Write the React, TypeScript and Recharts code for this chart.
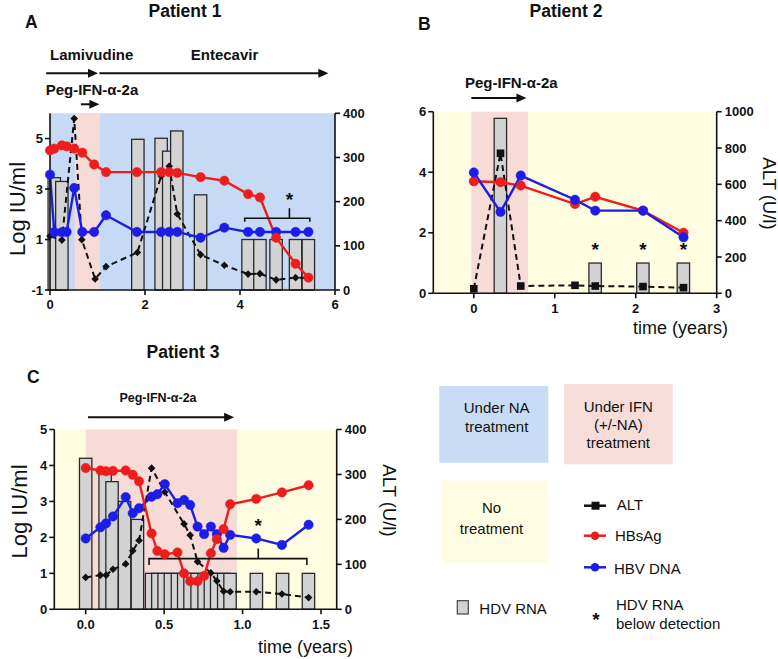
import React from 'react';
import { ComposedChart, Line, Bar, XAxis, YAxis, ReferenceArea, ReferenceLine, ReferenceDot } from 'recharts';

const FONT = '"Liberation Sans", Arial, Helvetica, sans-serif';
const RED = '#ee1d1d';
const BLUE = '#1d1de8';
const INK = '#111111';
const BAR_FILL = '#d3d3d3';
const BG_BLUE = '#c6daf5';
const BG_PINK = '#f6dbd6';
const BG_YELLOW = '#fefde2';

// ---------- Panel A : Patient 1 ----------
const aTime = [0, 0.09, 0.25, 0.35, 0.51, 0.68, 0.93, 1.18, 1.83, 2.34, 2.51, 2.68, 3.17, 3.67, 4.17, 4.42, 4.76, 5.17, 5.44];
const aHBsAg = [4.53, 4.6, 4.73, 4.69, 4.6, 4.44, 3.97, 3.67, 3.67, 3.67, 3.67, 3.64, 3.47, 3.33, 2.8, 2.67, 1.07, 0.04, -0.51];
const aHBVDNA = [3.57, 1.29, 1.29, 1.3, 3.04, 1.3, 1.3, 1.96, 1.3, 1.3, 1.3, 1.3, 1.07, 1.47, 1.3, 1.3, 1.3, 1.3, 1.3];
const aAltTime = [0, 0.25, 0.51, 0.67, 0.95, 1.18, 1.84, 2.34, 2.51, 2.68, 3.17, 3.67, 4.17, 4.42, 4.76, 5.17, 5.44];
const aALT = [122, 113, 388, 114, 25, 53, 85, 258, 280, 172, 80, 56, 36, 37, 23, 28, 28];
const aHdvTime = [0.09, 0.25, 1.85, 2.34, 2.5, 2.67, 3.17, 4.17, 4.42, 4.76, 5.17, 5.44];
const aHDV = [3.45, 3.3, 4.97, 5.01, 4.5, 5.3, 2.77, 1, 1, 1, 1, 1];
const aXTicks = [0, 2, 4, 6];
const aLeftTicks = [-1, 1, 3, 5];
const aRightTicks = [0, 100, 200, 300, 400];
const aNAPeriod = [0, 6];
const aIFNPeriod = [0.52, 1.05];
const aLamivudine = [-0.08, 1.01];
const aEntecavir = [1.04, 5.86];
const aPegIFN = [0.65, 1.04];
const aStarX = [5.04];

// ---------- Panel B : Patient 2 ----------
const bTime = [0, 0.33, 0.58, 1.25, 1.5, 2.09, 2.59];
const bHBsAg = [3.7, 3.67, 3.56, 2.95, 3.19, 2.73, 2.0];
const bHBVDNA = [3.99, 2.69, 3.89, 3.09, 2.73, 2.73, 1.85];
const bALT = [25, 771, 40, 44, 40, 37, 31];
const bHdvTime = [0.33, 1.5, 2.09, 2.59];
const bHDV = [5.78, 1, 1, 1];
const bXTicks = [0, 1, 2, 3];
const bLeftTicks = [0, 2, 4, 6];
const bRightTicks = [0, 200, 400, 600, 800, 1000];
const bNoTreatment = [-0.5, 3];
const bIFNPeriod = [-0.03, 0.67];
const bPegIFN = [-0.03, 0.65];
const bStarX = [1.5, 2.09, 2.59];

// ---------- Panel C : Patient 3 ----------
const cTime = [0, 0.094, 0.13, 0.174, 0.255, 0.3, 0.34, 0.42, 0.457, 0.504, 0.585, 0.627, 0.666, 0.713, 0.755, 0.798, 0.836, 0.879, 0.921, 1.087, 1.251, 1.421];
const cHBsAg = [3.93, 3.86, 3.84, 3.85, 3.86, 3.74, 3.56, 2.11, 1.62, 1.53, 1.58, 1.0, 0.78, 0.78, 0.93, 1.56, 1.95, 2.23, 2.92, 3.07, 3.25, 3.45];
const cHBVDNA = [1.97, 2.28, 2.39, 2.58, 3.12, 2.67, 2.81, 3.13, 3.2, 3.48, 2.95, 3.04, 2.9, 2.3, 2.09, 2.3, 2.09, 1.71, 2.07, 1.97, 1.79, 2.35];
const cAltTime = [0, 0.094, 0.13, 0.174, 0.255, 0.3, 0.34, 0.42, 0.504, 0.627, 0.666, 0.713, 0.798, 0.836, 0.879, 0.921, 1.087, 1.251, 1.421];
const cALT = [71, 76, 76, 89, 101, 130, 153, 314, 261, 190, 165, 106, 81, 63, 40, 39, 39, 34, 26];
const cHdvTime = [0, 0.124, 0.168, 0.248, 0.33, 0.42, 0.46, 0.5, 0.54, 0.585, 0.625, 0.665, 0.71, 0.755, 0.795, 0.835, 0.88, 0.92, 1.088, 1.255, 1.42];
const cHDV = [4.2, 3.85, 3.55, 3.0, 2.5, 1, 1, 1, 1, 1, 1, 1, 1, 1, 1, 1, 1, 1, 1, 1, 1];
const cXTicks = [0, 0.5, 1, 1.5];
const cLeftTicks = [0, 1, 2, 3, 4, 5];
const cRightTicks = [0, 100, 200, 300, 400];
const cNoTreatment = [-0.2, 1.6];
const cIFNPeriod = [0, 0.965];
const cPegIFN = [0.015, 0.946];
const cStarX = [1.1];

type Row = { t: number; [k: string]: number | undefined };
function buildTable(series: { key: string; t: number[]; v: number[] }[]): Row[] {
  const map = new Map<number, Row>();
  series.forEach((s) =>
    s.t.forEach((t, i) => {
      if (!map.has(t)) map.set(t, { t });
      (map.get(t) as Row)[s.key] = s.v[i];
    })
  );
  return Array.from(map.values()).sort((a, b) => a.t - b.t);
}

const dataA = buildTable([
  { key: 'hbs', t: aTime, v: aHBsAg },
  { key: 'dna', t: aTime, v: aHBVDNA },
  { key: 'alt', t: aAltTime, v: aALT },
  { key: 'hdv', t: aHdvTime, v: aHDV },
]);
const dataB = buildTable([
  { key: 'hbs', t: bTime, v: bHBsAg },
  { key: 'dna', t: bTime, v: bHBVDNA },
  { key: 'alt', t: bTime, v: bALT },
  { key: 'hdv', t: bHdvTime, v: bHDV },
]);
const dataC = buildTable([
  { key: 'hbs', t: cTime, v: cHBsAg },
  { key: 'dna', t: cTime, v: cHBVDNA },
  { key: 'alt', t: cAltTime, v: cALT },
  { key: 'hdv', t: cHdvTime, v: cHDV },
]);

const axisStroke = { stroke: INK, strokeWidth: 1.6 };
const tickStyle = { fill: INK, fontSize: 13, fontWeight: 700, fontFamily: FONT };

const HdvBar = (p: any) => {
  const { x, y, width, height } = p;
  if (x == null || y == null || height == null || !isFinite(height) || !isFinite(y)) return <g />;
  const cx = x + width / 2;
  const w = 12.4;
  const top = Math.min(y, y + height);
  const h = Math.abs(height);
  return <rect x={cx - w / 2} y={top} width={w} height={h} fill={BAR_FILL} stroke="#2a2a2a" strokeWidth={1.3} />;
};

const circleDot = (color: string) => (p: any) => {
  const { cx, cy, key } = p;
  if (cx == null || cy == null || !isFinite(cy)) return <g key={key} />;
  return <circle key={key} cx={cx} cy={cy} r={4.7} fill={color} stroke={color} strokeWidth={0.5} />;
};
const diamondDot = (p: any) => {
  const { cx, cy, key } = p;
  if (cx == null || cy == null || !isFinite(cy)) return <g key={key} />;
  const s = 3.8;
  return <path key={key} d={`M${cx},${cy - s} L${cx + s},${cy} L${cx},${cy + s} L${cx - s},${cy} Z`} fill={INK} />;
};
const squareDot = (p: any) => {
  const { cx, cy, key } = p;
  if (cx == null || cy == null || !isFinite(cy)) return <g key={key} />;
  const s = 3.8;
  return <rect key={key} x={cx - s} y={cy - s} width={2 * s} height={2 * s} fill={INK} />;
};

const arrowShape = (p: any) => {
  const { x1, y1, x2, y2 } = p;
  const head = 10;
  const hw = 4.5;
  return (
    <g>
      <line x1={x1} y1={y1} x2={x2 - head + 1} y2={y2} stroke={INK} strokeWidth={2} />
      <path d={`M${x2},${y2} L${x2 - head},${y2 - hw} L${x2 - head},${y2 + hw} Z`} fill={INK} />
    </g>
  );
};
const bracketShape = (tick: number) => (p: any) => (
  <path
    d={`M${p.x1},${p.y1 + tick} L${p.x1},${p.y1} L${p.x2},${p.y2} L${p.x2},${p.y2 + tick}`}
    fill="none"
    stroke={INK}
    strokeWidth={1.6}
  />
);
const stemShape = (p: any) => <line x1={p.x1} y1={p.y1} x2={p.x2} y2={p.y2} stroke={INK} strokeWidth={1.6} />;
const starShape = (p: any) => (
  <text x={p.cx} y={p.cy + 11} textAnchor="middle" fontSize={19} fontWeight={700} fontFamily={FONT} fill={INK}>
    *
  </text>
);

function PanelA() {
  return (
    <div style={{ position: 'absolute', left: 0, top: 40 }}>
      <ComposedChart width={380} height={285} data={dataA} margin={{ top: 73.3, right: 0, bottom: 5, left: 5 }}>
        <XAxis dataKey="t" type="number" domain={[0, 6]} ticks={aXTicks} height={30} tickSize={5} tickMargin={5} axisLine={axisStroke} tickLine={axisStroke} tick={tickStyle} />
        <YAxis yAxisId="L" type="number" domain={[-1, 6]} ticks={aLeftTicks} width={45} tickSize={5} tickMargin={2} axisLine={axisStroke} tickLine={axisStroke} tick={tickStyle} />
        <YAxis yAxisId="R" orientation="right" type="number" domain={[0, 400]} ticks={aRightTicks} width={45} tickSize={5} tickMargin={3} axisLine={axisStroke} tickLine={axisStroke} tick={tickStyle} />
        <ReferenceArea yAxisId="L" x1={aNAPeriod[0]} x2={aNAPeriod[1]} fill={BG_BLUE} fillOpacity={1} stroke="none" />
        <ReferenceArea yAxisId="L" x1={aIFNPeriod[0]} x2={aIFNPeriod[1]} fill={BG_PINK} fillOpacity={1} stroke="none" />
        <Bar yAxisId="L" dataKey={(d: any) => (d.hdv == null ? null : [-1, d.hdv])} barSize={12} shape={HdvBar} isAnimationActive={false} />
        <Line yAxisId="R" dataKey="alt" stroke={INK} strokeWidth={2} strokeDasharray="6 4" dot={diamondDot} connectNulls isAnimationActive={false} />
        <Line yAxisId="L" dataKey="dna" stroke={BLUE} strokeWidth={2.4} dot={circleDot(BLUE)} connectNulls isAnimationActive={false} />
        <Line yAxisId="L" dataKey="hbs" stroke={RED} strokeWidth={2.4} dot={circleDot(RED)} connectNulls isAnimationActive={false} />
        <ReferenceLine yAxisId="L" segment={[{ x: aLamivudine[0], y: 7.585 }, { x: aLamivudine[1], y: 7.585 }]} ifOverflow="visible" shape={arrowShape} />
        <ReferenceLine yAxisId="L" segment={[{ x: aEntecavir[0], y: 7.585 }, { x: aEntecavir[1], y: 7.585 }]} ifOverflow="visible" shape={arrowShape} />
        <ReferenceLine yAxisId="L" segment={[{ x: aPegIFN[0], y: 6.357 }, { x: aPegIFN[1], y: 6.357 }]} ifOverflow="visible" shape={arrowShape} />
        <ReferenceLine yAxisId="L" segment={[{ x: 4.1, y: 1.84 }, { x: 5.47, y: 1.84 }]} ifOverflow="visible" shape={bracketShape(3.5)} />
        <ReferenceLine yAxisId="L" segment={[{ x: aStarX[0], y: 1.84 }, { x: aStarX[0], y: 2.24 }]} ifOverflow="visible" shape={stemShape} />
        <ReferenceDot yAxisId="L" x={aStarX[0]} y={2.76} r={0} ifOverflow="visible" shape={starShape} />
      </ComposedChart>
    </div>
  );
}

function PanelB() {
  return (
    <div style={{ position: 'absolute', left: 385, top: 60 }}>
      <ComposedChart width={393} height={270} data={dataB} margin={{ top: 51.7, right: 16.3, bottom: 6.7, left: 3.3 }}>
        <XAxis dataKey="t" type="number" domain={[-0.5, 3]} ticks={bXTicks} height={30} tickSize={5} tickMargin={5} axisLine={axisStroke} tickLine={axisStroke} tick={tickStyle} />
        <YAxis yAxisId="L" type="number" domain={[0, 6]} ticks={bLeftTicks} width={45} tickSize={5} tickMargin={2} axisLine={axisStroke} tickLine={axisStroke} tick={tickStyle} />
        <YAxis yAxisId="R" orientation="right" type="number" domain={[0, 1000]} ticks={bRightTicks} width={45} tickSize={5} tickMargin={3} axisLine={axisStroke} tickLine={axisStroke} tick={tickStyle} />
        <ReferenceArea yAxisId="L" x1={bNoTreatment[0]} x2={bNoTreatment[1]} fill={BG_YELLOW} fillOpacity={1} stroke="none" />
        <ReferenceArea yAxisId="L" x1={bIFNPeriod[0]} x2={bIFNPeriod[1]} fill={BG_PINK} fillOpacity={1} stroke="none" />
        <Bar yAxisId="L" dataKey={(d: any) => (d.hdv == null ? null : [0, d.hdv])} barSize={12} shape={HdvBar} isAnimationActive={false} />
        <Line yAxisId="R" dataKey="alt" stroke={INK} strokeWidth={2} strokeDasharray="6 4" dot={squareDot} connectNulls isAnimationActive={false} />
        <Line yAxisId="L" dataKey="hbs" stroke={RED} strokeWidth={2.4} dot={circleDot(RED)} connectNulls isAnimationActive={false} />
        <Line yAxisId="L" dataKey="dna" stroke={BLUE} strokeWidth={2.4} dot={circleDot(BLUE)} connectNulls isAnimationActive={false} />
        <ReferenceLine yAxisId="L" segment={[{ x: bPegIFN[0], y: 6.455 }, { x: bPegIFN[1], y: 6.455 }]} ifOverflow="visible" shape={arrowShape} />
        {bStarX.map((x) => (
          <ReferenceDot key={x} yAxisId="L" x={x} y={1.6} r={0} ifOverflow="visible" shape={starShape} />
        ))}
      </ComposedChart>
    </div>
  );
}

function PanelC() {
  return (
    <div style={{ position: 'absolute', left: 5, top: 400 }}>
      <ComposedChart width={380} height={245} data={dataC} margin={{ top: 29.5, right: 3.3, bottom: 5.7, left: 4.3 }}>
        <XAxis dataKey="t" type="number" domain={[-0.2, 1.6]} ticks={cXTicks} tickFormatter={(v: number) => v.toFixed(1)} height={30} tickSize={5} tickMargin={5} axisLine={axisStroke} tickLine={axisStroke} tick={tickStyle} />
        <YAxis yAxisId="L" type="number" domain={[0, 5]} ticks={cLeftTicks} width={45} tickSize={5} tickMargin={2} axisLine={axisStroke} tickLine={axisStroke} tick={tickStyle} />
        <YAxis yAxisId="R" orientation="right" type="number" domain={[0, 400]} ticks={cRightTicks} width={45} tickSize={5} tickMargin={3} axisLine={axisStroke} tickLine={axisStroke} tick={tickStyle} />
        <ReferenceArea yAxisId="L" x1={cNoTreatment[0]} x2={cNoTreatment[1]} fill={BG_YELLOW} fillOpacity={1} stroke="none" />
        <ReferenceArea yAxisId="L" x1={cIFNPeriod[0]} x2={cIFNPeriod[1]} fill={BG_PINK} fillOpacity={1} stroke="none" />
        <Bar yAxisId="L" dataKey={(d: any) => (d.hdv == null ? null : [0, d.hdv])} barSize={12} shape={HdvBar} isAnimationActive={false} />
        <Line yAxisId="R" dataKey="alt" stroke={INK} strokeWidth={2} strokeDasharray="6 4" dot={diamondDot} connectNulls isAnimationActive={false} />
        <Line yAxisId="L" dataKey="dna" stroke={BLUE} strokeWidth={2.4} dot={circleDot(BLUE)} connectNulls isAnimationActive={false} />
        <Line yAxisId="L" dataKey="hbs" stroke={RED} strokeWidth={2.4} dot={circleDot(RED)} connectNulls isAnimationActive={false} />
        <ReferenceLine yAxisId="L" segment={[{ x: cPegIFN[0], y: 5.34 }, { x: cPegIFN[1], y: 5.34 }]} ifOverflow="visible" shape={arrowShape} />
        <ReferenceLine yAxisId="L" segment={[{ x: 0.404, y: 1.41 }, { x: 1.41, y: 1.41 }]} ifOverflow="visible" shape={bracketShape(6.5)} />
        <ReferenceLine yAxisId="L" segment={[{ x: cStarX[0], y: 1.41 }, { x: cStarX[0], y: 1.69 }]} ifOverflow="visible" shape={stemShape} />
        <ReferenceDot yAxisId="L" x={cStarX[0]} y={2.46} r={0} ifOverflow="visible" shape={starShape} />
      </ComposedChart>
    </div>
  );
}

const T = (props: any) => <text fontFamily={FONT} fill={INK} {...props} />;

function Overlay() {
  return (
    <svg width={778} height={659} style={{ position: 'absolute', left: 0, top: 0, pointerEvents: 'none' }}>
      {/* Panel A texts */}
      <T x={185} y={17} textAnchor="middle" fontSize={17.5} fontWeight={700}>Patient 1</T>
      <T x={25} y={28} fontSize={17.5} fontWeight={700}>A</T>
      <T x={50} y={60} fontSize={15} fontWeight={700}>Lamivudine</T>
      <T x={224.5} y={59.5} textAnchor="middle" fontSize={15} fontWeight={700}>Entecavir</T>
      <T x={45.7} y={95} fontSize={15} fontWeight={700}>Peg-IFN-α-2a</T>
      <T x={17} y={209} textAnchor="middle" dominantBaseline="central" fontSize={22} transform="rotate(-90, 17, 209)">Log IU/ml</T>
      {/* Panel B texts */}
      <T x={566} y={17} textAnchor="middle" fontSize={17.5} fontWeight={700}>Patient 2</T>
      <T x={418} y={30} fontSize={17.5} fontWeight={700}>B</T>
      <T x={465} y={88} fontSize={15} fontWeight={700}>Peg-IFN-α-2a</T>
      <T x={769} y={193.5} textAnchor="middle" dominantBaseline="central" fontSize={18.5} transform="rotate(90, 769, 193.5)">ALT (U/l)</T>
      <T x={728} y={334} textAnchor="end" fontSize={18}>time (years)</T>
      {/* Panel C texts */}
      <T x={183} y={358} textAnchor="middle" fontSize={17.5} fontWeight={700}>Patient 3</T>
      <T x={27} y={383} fontSize={17.5} fontWeight={700}>C</T>
      <T x={158} y={402} textAnchor="middle" fontSize={12.5} fontWeight={700}>Peg-IFN-α-2a</T>
      <T x={19.5} y={511.5} textAnchor="middle" dominantBaseline="central" fontSize={22} transform="rotate(-90, 19.5, 511.5)">Log IU/ml</T>
      <T x={389} y={500.5} textAnchor="middle" dominantBaseline="central" fontSize={18.5} transform="rotate(90, 389, 500.5)">ALT (U/l)</T>
      <T x={353} y={653} textAnchor="end" fontSize={18}>time (years)</T>
      {/* Legend */}
      <rect x={439.3} y={386} width={109} height={76.7} fill="#c9dcf6" />
      <T x={496.7} y={413.3} textAnchor="middle" fontSize={15}>Under NA</T>
      <T x={496.7} y={431.7} textAnchor="middle" fontSize={15}>treatment</T>
      <rect x={564} y={384} width={108.7} height={80.3} fill="#f6ddd8" />
      <T x={618.3} y={411.5} textAnchor="middle" fontSize={15}>Under IFN</T>
      <T x={618.3} y={429.5} textAnchor="middle" fontSize={15}>(+/-NA)</T>
      <T x={618.3} y={447.5} textAnchor="middle" fontSize={15}>treatment</T>
      <rect x={441.7} y={480.7} width={106.6} height={82} fill="#fefde3" />
      <T x={491.5} y={513} textAnchor="middle" fontSize={15}>No</T>
      <T x={491.5} y={534} textAnchor="middle" fontSize={15}>treatment</T>
      <line x1={584} y1={505.7} x2={606} y2={505.7} stroke={INK} strokeWidth={2.5} />
      <rect x={591.5} y={501.7} width={8} height={8} fill={INK} />
      <T x={616.7} y={509.5} fontSize={15}>ALT</T>
      <line x1={584} y1={535.7} x2={606} y2={535.7} stroke={RED} strokeWidth={2.5} />
      <circle cx={595} cy={535.7} r={4.3} fill={RED} />
      <T x={615} y={540.7} fontSize={15}>HBsAg</T>
      <line x1={584} y1={567.3} x2={606} y2={567.3} stroke={BLUE} strokeWidth={2.5} />
      <circle cx={595} cy={567.3} r={4.3} fill={BLUE} />
      <T x={614} y={574} fontSize={15}>HBV DNA</T>
      <rect x={457.3} y={600.7} width={11} height={13.3} fill={BAR_FILL} stroke="#444" strokeWidth={1.2} />
      <T x={479.3} y={614} fontSize={15}>HDV RNA</T>
      <T x={596} y={625.5} textAnchor="middle" fontSize={19} fontWeight={700}>*</T>
      <T x={616} y={610} fontSize={15}>HDV RNA</T>
      <T x={616} y={629} fontSize={15}>below detection</T>
    </svg>
  );
}

export default function App() {
  return (
    <div style={{ position: 'absolute', left: 0, top: 0, width: 778, height: 659, background: '#ffffff', overflow: 'hidden', fontFamily: FONT }}>
      <PanelA />
      <PanelB />
      <PanelC />
      <Overlay />
    </div>
  );
}
